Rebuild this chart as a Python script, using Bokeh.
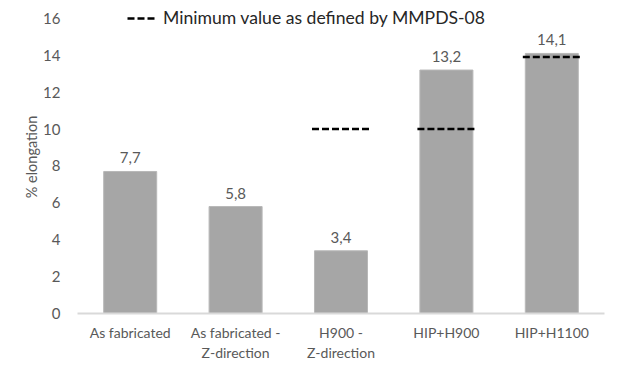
from bokeh.plotting import figure
from bokeh.models import ColumnDataSource, Range1d, FactorRange, Legend, LegendItem
from bokeh.transform import dodge
from bokeh.core.properties import value
from bokeh.embed import file_html
from bokeh.resources import INLINE

categories = ["As fabricated\n\u00a0", "As fabricated -\nZ-direction", "H900 -\nZ-direction", "HIP+H900\n\u00a0", "HIP+H1100\n\u00a0"]
elongation = [7.7, 5.8, 3.4, 13.2, 14.1]
value_labels = ["7,7", "5,8", "3,4", "13,2", "14,1"]

min_categories = ["H900 -\nZ-direction", "HIP+H900\n\u00a0", "HIP+H1100\n\u00a0"]
min_values = [10, 10, 13.9]

y_ticks = [0, 2, 4, 6, 8, 10, 12, 14, 16]

FONT = "Lato"
TXT = "#595959"

src = ColumnDataSource(dict(cat=categories, val=elongation, lab=value_labels))
msrc = ColumnDataSource(dict(cat=min_categories, val=min_values))

p = figure(frame_width=527, frame_height=313, x_range=FactorRange(factors=categories, range_padding=0),
           y_range=Range1d(0, 16.97), output_backend="svg", toolbar_location=None,
           min_border_left=77, min_border_right=19, min_border_bottom=60, min_border_top=0)
p.outline_line_color = None
p.grid.visible = False
p.background_fill_color = "white"

p.vbar(x="cat", top="val", width=0.503, source=src, fill_color="#a6a6a6",
       line_color="#b8b8b8", line_width=1)

p.text(x="cat", y="val", text="lab", source=src, text_align="center", text_baseline="bottom",
       y_offset=-8, text_font=value(FONT), text_font_size="15px", text_color=TXT)

seg = p.segment(x0=dodge("cat", -0.275, range=p.x_range), x1=dodge("cat", 0.275, range=p.x_range),
                y0="val", y1="val", source=msrc, line_color="black", line_width=2.5,
                line_dash="7 3")

legend = Legend(items=[LegendItem(label="Minimum value as defined by MMPDS-08", renderers=[seg])],
                location=(50, 285), orientation="horizontal", padding=0, margin=0,
                border_line_color=None, background_fill_alpha=0, glyph_width=28,
                label_standoff=8, label_text_font=FONT, label_text_font_size="17.6px",
                label_text_color="#262626", label_height=20, glyph_height=20)
p.add_layout(legend)

p.yaxis.ticker = y_ticks
p.yaxis.axis_line_color = None
p.yaxis.major_tick_line_color = None
p.yaxis.minor_tick_line_color = None
p.yaxis.major_label_standoff = 11
p.yaxis.major_label_text_font = FONT
p.yaxis.major_label_text_font_size = "15px"
p.yaxis.major_label_text_color = TXT
p.yaxis.axis_label = "% elongation"
p.yaxis.axis_label_text_font = FONT
p.yaxis.axis_label_text_font_size = "14.5px"
p.yaxis.axis_label_text_font_style = "normal"
p.yaxis.axis_label_text_color = TXT
p.yaxis.axis_label_standoff = 0

p.xaxis.axis_line_color = "#d9d9d9"
p.xaxis.axis_line_width = 2
p.xaxis.major_tick_line_color = None
p.xaxis.minor_tick_line_color = None
p.xaxis.major_label_standoff = 4
p.xaxis.major_label_text_font = FONT
p.xaxis.major_label_text_font_size = "14px"
p.xaxis.major_label_text_color = TXT

open("out.html", "w").write(file_html(p, INLINE))
